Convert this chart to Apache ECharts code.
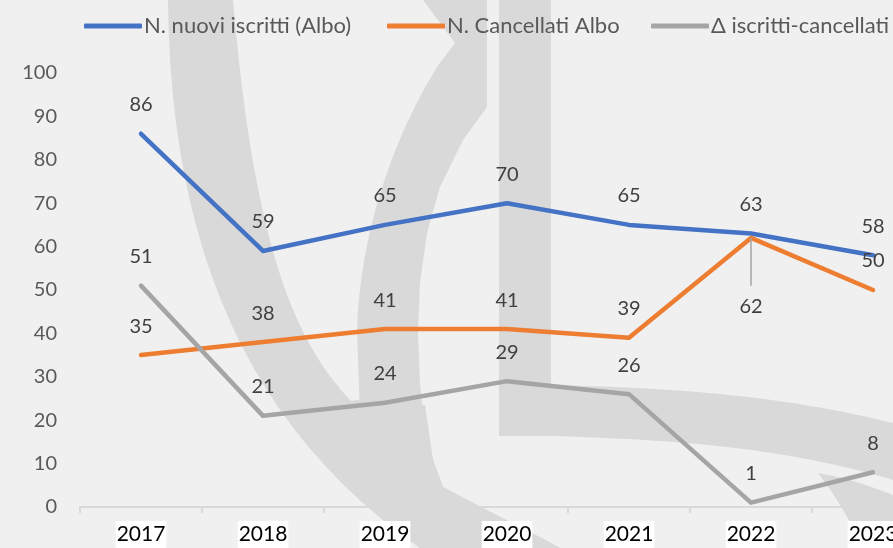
<!DOCTYPE html>
<html>
<head>
<meta charset="utf-8">
<script src="https://cdn.jsdelivr.net/npm/echarts@6/dist/echarts.min.js"></script>
<style>
html,body{margin:0;padding:0;overflow:hidden;background:#f0f0f0;width:893px;height:548px;}
#c{width:960px;height:548px;}
</style>
</head>
<body>
<div id="c"></div>
<script>
const years = ['2017','2018','2019','2020','2021','2022','2023'];
const nuoviIscritti = [86, 59, 65, 70, 65, 63, 58];
const cancellati = [35, 38, 41, 41, 39, 62, 50];
const delta = [51, 21, 24, 29, 26, 1, 8];
const seriesNames = ['N. nuovi iscritti (Albo)', 'N. Cancellati Albo', 'Δ iscritti-cancellati'];

const FONT = 'Lato';
const chart = echarts.init(document.getElementById('c'), null, {renderer: 'canvas'});

const wm = '#d9d9d9';
const lbl = {show: true, position: 'top', distance: 18, color: '#404040', fontSize: 20, fontFamily: FONT};

// watermark decoration: convert simple M/L/C path strings into polygon points
function pathToPoints(d) {
  const tok = d.replace(/([MLCZ])/g, ' $1 ').replace(/,/g, ' ').trim().split(/\s+/);
  const pts = [];
  let i = 0, cur = [0, 0], cmd = '';
  while (i < tok.length) {
    if (/[MLCZ]/.test(tok[i])) { cmd = tok[i++]; if (cmd === 'Z') continue; }
    if (cmd === 'M' || cmd === 'L') {
      cur = [+tok[i], +tok[i + 1]]; i += 2; pts.push(cur.slice());
    } else if (cmd === 'C') {
      const p1 = [+tok[i], +tok[i + 1]], p2 = [+tok[i + 2], +tok[i + 3]], p3 = [+tok[i + 4], +tok[i + 5]];
      i += 6;
      for (let s = 1; s <= 24; s++) {
        const t = s / 24, u = 1 - t;
        pts.push([
          u*u*u*cur[0] + 3*u*u*t*p1[0] + 3*u*t*t*p2[0] + t*t*t*p3[0],
          u*u*u*cur[1] + 3*u*u*t*p1[1] + 3*u*t*t*p2[1] + t*t*t*p3[1]
        ]);
      }
      cur = p3;
    } else { i++; }
  }
  return pts;
}
const wmPaths = [
  'M168,0 C170,250 250,430 420,548 L560,548 C520,525 470,505 443,487 L433,460 L423,410 L355,405 C300,350 255,260 233,0 Z',
  'M355,400 L425,405 L433,460 L443,487 L560,548 L420,548 L330,470 L288,420 Z',
  'M423,0 L455,43 L437,67 C395,135 360,230 357,330 L360,415 L423,415 L420,383 L418,333 L420,283 L427,233 L440,187 L463,140 L487,107 L487,0 Z',
  'M499,0 L551,0 L551,385 C700,388 800,400 893,423 L893,480 C800,452 700,440 551,436 L499,436 Z',
  'M818,473 C850,478 880,490 893,495 L893,548 L863,548 C850,520 835,495 818,473 Z'
];

function lineSeries(name, data, color, extra) {
  return Object.assign({
    name: name, type: 'line', data: data,
    showSymbol: true, symbol: 'circle', symbolSize: 2,
    lineStyle: {color: color, width: 4.5, cap: 'round', join: 'round'},
    itemStyle: {color: color},
    label: lbl,
    emphasis: {disabled: true},
    z: 3
  }, extra || {});
}

const orangeData = cancellati.map((v, i) => i === 5
  ? {value: v, label: {position: 'bottom', distance: 58}}
  : v);

const legendLefts = [79, 382, 646];
const legends = seriesNames.map((n, i) => ({
  left: legendLefts[i], top: 10,
  itemWidth: 58, itemHeight: 5,
  icon: 'roundRect',
  textStyle: {color: '#595959', fontSize: 22, fontFamily: FONT, padding: [0, 0, 0, -3]},
  data: [n]
}));

chart.setOption({
  backgroundColor: '#f0f0f0',
  animation: false,
  textStyle: {fontFamily: FONT},
  graphic: {
    elements: wmPaths.map(p => ({
      type: 'polygon', silent: true, z: -10,
      shape: {points: pathToPoints(p)},
      style: {fill: wm}
    }))
  },
  legend: legends,
  grid: {left: 80, top: 73, width: 854, height: 434, containLabel: false},
  xAxis: {
    type: 'category', data: years, boundaryGap: true,
    axisLine: {show: true, lineStyle: {color: '#d9d9d9', width: 2}},
    axisTick: {show: true, length: 6, lineStyle: {color: '#d9d9d9', width: 2}},
    axisLabel: {color: '#000', fontSize: 21, fontFamily: FONT, backgroundColor: '#fff', padding: [3, 1, 3, 1], margin: 14}
  },
  yAxis: {
    type: 'value', min: 0, max: 100, interval: 10,
    axisLine: {show: false}, axisTick: {show: false}, splitLine: {show: false},
    axisLabel: {color: '#595959', fontSize: 20, fontFamily: FONT, margin: 23}
  },
  series: [
    lineSeries(seriesNames[0], nuoviIscritti, '#4472C4'),
    lineSeries(seriesNames[1], orangeData, '#ED7D31', {
      markLine: {
        silent: true, symbol: 'none', label: {show: false},
        lineStyle: {color: '#a6a6a6', width: 1.5, type: 'solid'},
        emphasis: {disabled: true},
        data: [[{coord: [years[5], cancellati[5]]}, {coord: [years[5], cancellati[5] - 11]}]]
      }
    }),
    lineSeries(seriesNames[2], delta, '#A5A5A5')
  ]
});
</script>
</body>
</html>
